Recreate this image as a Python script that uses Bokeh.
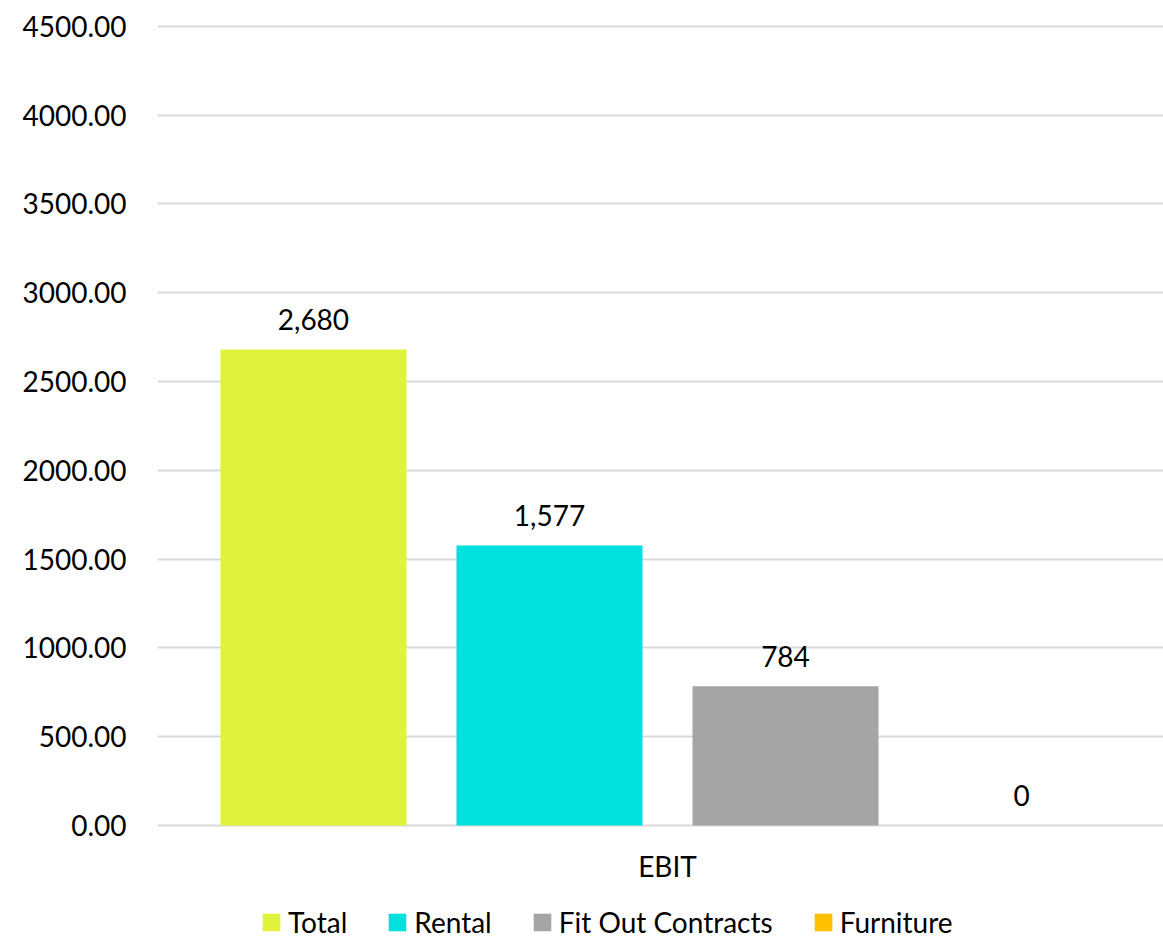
from bokeh.plotting import figure
from bokeh.models import (ColumnDataSource, Range1d, FixedTicker, NumeralTickFormatter,
                          Legend, LegendItem, LabelSet)
from bokeh.core.properties import value
from bokeh.embed import file_html
from bokeh.resources import INLINE

categories = ["EBIT"]
series = ["Total", "Rental", "Fit Out Contracts", "Furniture"]
values = [2680, 1577, 784, 0]
colors = ["#E0F33A", "#00E0DC", "#A5A5A5", "#FFC000"]
y_ticks = [0, 500, 1000, 1500, 2000, 2500, 3000, 3500, 4000, 4500]

FONT = "Lato"
FS = "28px"

# frame extends below zero so the category label and legend sit inside it
px_per_unit = 801 / 4510
below_px = 114
p = figure(frame_width=1006, frame_height=801 + below_px, output_backend="svg",
           toolbar_location=None,
           x_range=Range1d(0, len(categories) * 0.9863),
           y_range=Range1d(-below_px / px_per_unit, 4510),
           min_border_left=157, min_border_right=0, min_border_top=24, min_border_bottom=0)
p.outline_line_color = None

spacing = 0.2314
bar_w = 0.1824
xs = [0.5 + (i - (len(series) - 1) / 2) * spacing for i in range(len(series))]

items = []
for i, (s, v, c) in enumerate(zip(series, values, colors)):
    src = ColumnDataSource(dict(x=[xs[i]], top=[v]))
    r = p.vbar(x="x", top="top", bottom=0, width=bar_w, source=src,
               fill_color=c, line_color=None)
    items.append(LegendItem(label=s, renderers=[r]))

lab_src = ColumnDataSource(dict(x=xs, y=values, t=[f"{v:,.0f}" for v in values]))
labels = LabelSet(x="x", y="y", text="t", source=lab_src, y_offset=30,
                  text_align="center", text_baseline="middle",
                  text_font=value(FONT), text_font_size=value(FS), text_color="#000000")
p.add_layout(labels)

cat_src = ColumnDataSource(dict(x=[0.5 + k for k in range(len(categories))],
                                y=[0] * len(categories), t=categories))
cat_labels = LabelSet(x="x", y="y", text="t", source=cat_src, y_offset=-40,
                      text_align="center", text_baseline="middle",
                      text_font=value(FONT), text_font_size=value(FS), text_color="#000000")
p.add_layout(cat_labels)

# y axis
p.yaxis.ticker = FixedTicker(ticks=y_ticks)
p.yaxis.formatter = NumeralTickFormatter(format="0.00")
p.yaxis.axis_line_color = None
p.yaxis.major_tick_line_color = None
p.yaxis.minor_tick_line_color = None
p.yaxis.major_label_standoff = 25
p.yaxis.major_label_text_font = FONT
p.yaxis.major_label_text_font_size = FS
p.yaxis.major_label_text_color = "#000000"

p.xaxis.visible = False

p.xgrid.grid_line_color = None
p.ygrid.ticker = FixedTicker(ticks=y_ticks)
p.ygrid.grid_line_color = "#D9D9D9"
p.ygrid.grid_line_width = 2

legend = Legend(items=items, orientation="horizontal", location=(103, 0),
                glyph_width=22, glyph_height=22, label_standoff=6, spacing=39,
                padding=0, margin=0, border_line_color=None, background_fill_alpha=0,
                label_text_font=FONT, label_text_font_size=FS, label_text_color="#000000")
p.add_layout(legend, "center")

open("out.html", "w").write(file_html(p, INLINE))
